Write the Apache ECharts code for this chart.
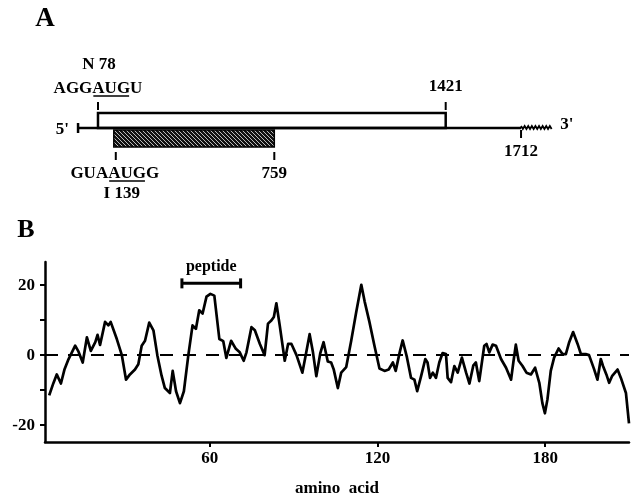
<!DOCTYPE html>
<html>
<head>
<meta charset="utf-8">
<script src="https://cdn.jsdelivr.net/npm/echarts@6/dist/echarts.min.js"></script>
<style>
html, body { margin: 0; padding: 0; background: #fff; }
#chart { width: 631px; height: 497px; }
</style>
</head>
<body>
<div id="chart"></div>
<script>
// ---- panel B : hydrophilicity profile ----
var aminoAcid = [2.5, 4, 5.2, 6.7, 8, 9.4, 11.8, 13, 14.5, 16, 17.4, 19, 19.8, 20.7, 22.5, 23.7, 24.5, 26.7, 28.5, 30,
  31.4, 33.2, 34.4, 35.6, 36.8, 38.3, 39.8, 41.2, 42.7, 43.9, 45.7, 46.7, 47.9, 49.3, 50.7, 52.3, 53.8, 55, 56.2, 57.4,
  58.8, 60.2, 61.6, 63.4, 64.8, 65.9, 67.6, 69.3, 70.7, 72.1, 73.1, 74.9, 76.1, 77.9, 79.6, 80.8, 82, 82.9, 83.8, 85,
  86.8, 88, 89.2, 91, 93.1, 94.3, 95.7, 96.9, 98.1, 99.5, 100.7, 102.2, 103.4, 104.3, 105.8, 107, 108.8, 110.6, 112.4, 114.2,
  115.4, 117.1, 118.9, 120.7, 122.5, 124, 125.5, 126.5, 128, 129, 130.5, 132, 133.2, 134.2, 135.6, 137.1, 137.9, 138.8, 139.8, 140.9,
  142.1, 143.3, 144.5, 145.1, 146.3, 147.5, 148.7, 150.2, 151.7, 152.9, 154.3, 155.2, 156.4, 158.2, 159, 160, 161.2, 162.4, 164.2, 166,
  167.8, 168.6, 169.5, 170.5, 171.9, 173.3, 174.9, 176.4, 177.9, 179, 179.9, 180.8, 182, 183.2, 184.8, 186.2, 187.4, 188.6, 190, 191.6,
  192.8, 194.5, 195.7, 197.5, 198.7, 199.9, 200.7, 201.9, 202.9, 204, 205.9, 207.1, 208.9, 210];
var hydrophilicity = [-11.5, -8, -5.5, -8.1, -4, -1.2, 2.7, 1, -2.1, 5.1, 1.2, 3.7, 5.8, 2.9, 9.5, 8.5, 9.5, 4.6, 0, -7,
  -5.5, -4.1, -2.6, 2.7, 4.1, 9.3, 7.1, 0, -5.8, -9.4, -10.8, -4.5, -10.3, -13.7, -10.3, 0, 8.5, 7.5, 12.8, 11.9,
  16.7, 17.5, 17, 4.6, 4, -0.8, 4.1, 1.8, 0.8, -1.6, 0.8, 8, 7.1, 3.2, 0, 9, 9.9, 10.9, 14.8, 8.5,
  -1.6, 3.2, 3.2, 0, -5, 0, 6, 0.8, -6, 0.5, 3.7, -1.8, -2.1, -4, -9.4, -5, -3.4, 4.2, 12.4, 20.1,
  15.3, 9.5, 2.7, -3.8, -4.5, -4.1, -2.1, -4.5, 1, 4.2, -0.5, -6.5, -7, -10.3, -6, -1.1, -2.1, -6.5, -5, -6.5,
  -2.1, 0.6, 0.3, -6.5, -7.7, -3.1, -5, -0.7, -5, -8.1, -2.9, -2.1, -7.4, 2.7, 3.2, 0.8, 3, 2.7, -1.1, -3.6,
  -7, -2.1, 3, -1.6, -3.1, -5, -5.5, -3.6, -7.9, -13.7, -16.6, -12.7, -4.5, -0.7, 1.9, 0.3, 0.3, 3.7, 6.6, 3.2,
  0.3, 0.3, 0, -4, -7, -1.1, -3.1, -5.5, -7.9, -5.9, -4.1, -6.5, -10.8, -19.5];
var xTicks = [60, 120, 180];
var yTicks = [-20, -10, 0, 10, 20];
var yLabels = [-20, 0, 20];
var peptide = [50, 71];

// ---- panel A : mRNA map (nucleotides) ----
var transcript = [1, 1712];
var polyA = [1712, 1836];
var orfStart = [78, 139];
var orfStop = [1421, 759];
var orfName = ['N 78', 'I 139'];
var startContext = ['AGGAUGU', 'GUAAUGG'];

var serif = '"Liberation Serif", "Times New Roman", serif';
var labelFont = 'bold 17px ' + serif;

var meas = document.createElement('canvas').getContext('2d');
function textWidth(s) {
  meas.font = labelFont;
  return meas.measureText(s).width;
}

// hatch pattern for the second ORF
var hatch = document.createElement('canvas');
hatch.width = 4; hatch.height = 4;
var hc = hatch.getContext('2d');
hc.fillStyle = '#111';
hc.fillRect(0, 0, 4, 4);
hc.strokeStyle = '#bbb';
hc.lineWidth = 1;
hc.beginPath();
hc.moveTo(0, 0); hc.lineTo(4, 4);
hc.moveTo(-2, 2); hc.lineTo(2, 6);
hc.moveTo(2, -2); hc.lineTo(6, 2);
hc.stroke();

function label(text, x, y, align) {
  return {
    type: 'text',
    style: { text: text, x: x, y: y, font: labelFont, fill: '#000', align: align || 'center', verticalAlign: 'middle' }
  };
}
function seg(x1, y1, x2, y2, w) {
  return { type: 'line', shape: { x1: x1, y1: y1, x2: x2, y2: y2 }, style: { stroke: '#000', lineWidth: w || 2 } };
}
// codon context, with the AUG underlined
function context(text, cx, cy) {
  var w = textWidth(text);
  var k = text.indexOf('AUG');
  var left = cx - w / 2;
  var u0 = left + textWidth(text.slice(0, k)) + 1;
  var u1 = left + textWidth(text.slice(0, k + 3)) - 1;
  return [label(text, cx, cy), seg(u0, cy + 7, u1, cy + 7, 1.5)];
}

function renderOrf(params, api) {
  var i = api.value(2);
  var p0 = api.coord([api.value(0), 0]);
  var p1 = api.coord([api.value(1), 0]);
  var y = p0[1];
  var kids = [];
  if (i === 0) {
    kids.push({ type: 'rect', shape: { x: p0[0], y: y - 15, width: p1[0] - p0[0], height: 15 },
      style: { fill: '#fff', stroke: '#000', lineWidth: 2.5 } });
    kids.push(seg(p0[0], y - 26, p0[0], y - 18));
    kids.push(seg(p1[0], y - 26, p1[0], y - 18));
    kids = kids.concat(context(startContext[i], p0[0], y - 39));
    kids.push(label(orfName[i], p0[0] + 1, y - 63));
    kids.push(label(String(orfStop[i]), p1[0], y - 41));
  } else {
    kids.push({ type: 'rect', shape: { x: p0[0], y: y + 2, width: p1[0] - p0[0], height: 17 },
      style: { fill: { image: hatch, repeat: 'repeat' }, stroke: '#000', lineWidth: 1.5 } });
    kids.push(seg(p0[0] + 2, y + 24, p0[0] + 2, y + 32));
    kids.push(seg(p1[0], y + 24, p1[0], y + 32));
    kids = kids.concat(context(startContext[i], p0[0] + 1, y + 46));
    kids.push(label(orfName[i], p0[0] + 8, y + 66));
    kids.push(label(String(orfStop[i]), p1[0], y + 46));
  }
  return { type: 'group', children: kids };
}

function renderEnds(params, api) {
  var a = api.coord([transcript[0], 0]);
  var b = api.coord([polyA[0], 0]);
  var c = api.coord([polyA[1], 0]);
  var y = a[1];
  var kids = [seg(a[0], y - 5, a[0], y + 5, 2.5), label("5'", a[0] - 9, y + 2, 'right')];
  // poly(A) tail squiggle
  var pts = [];
  for (var x = b[0], k = 0; x <= c[0]; x += 1.8, k++) {
    pts.push([x, y - 2 + (k % 2 ? 3 : 0)]);
  }
  kids.push({ type: 'polyline', shape: { points: pts }, style: { stroke: '#000', lineWidth: 1.8, fill: null } });
  kids.push(label("3'", c[0] + 7, y - 3, 'left'));
  kids.push(seg(b[0], y + 2, b[0], y + 10));
  kids.push(label(String(polyA[0]), b[0], y + 24));
  return { type: 'group', children: kids };
}

function renderPeptide(params, api) {
  var p0 = api.coord([api.value(0), 20.5]);
  var p1 = api.coord([api.value(1), 20.5]);
  var y = p0[1];
  return {
    type: 'group',
    children: [
      seg(p0[0], y, p1[0], y, 3),
      seg(p0[0], y - 5, p0[0], y + 5, 3),
      seg(p1[0], y - 5, p1[0], y + 5, 3),
      { type: 'text', style: { text: 'peptide', x: (p0[0] + p1[0]) / 2, y: y - 17,
        font: 'bold 16px ' + serif, fill: '#000', align: 'center', verticalAlign: 'middle' } }
    ]
  };
}

var profile = aminoAcid.map(function (a, i) { return [a, hydrophilicity[i]]; });
var axisFont = { fontFamily: serif, fontWeight: 'bold', fontSize: 17, color: '#000' };

var chart = echarts.init(document.getElementById('chart'), null, { renderer: 'canvas' });
chart.setOption({
  animation: false,
  backgroundColor: '#fff',
  graphic: [
    { type: 'text', x: 45, y: 19, style: { text: 'A', font: 'bold 27px ' + serif, fill: '#000', align: 'center', verticalAlign: 'middle' } },
    { type: 'text', x: 26, y: 230, style: { text: 'B', font: 'bold 26px ' + serif, fill: '#000', align: 'center', verticalAlign: 'middle' } }
  ],
  grid: [
    { left: 45, right: 2, top: 262, bottom: 55, containLabel: false, outerBoundsMode: 'none' },
    { left: 77.8, width: 517.8, top: 96, height: 64, containLabel: false, outerBoundsMode: 'none' }
  ],
  xAxis: [
    {
      gridIndex: 0, type: 'value', min: 1, max: 210,
      axisLine: { show: true, onZero: false, lineStyle: { color: '#000', width: 2.5 } },
      axisTick: { show: true, customValues: xTicks, length: 5, lineStyle: { color: '#000', width: 2 } },
      axisLabel: Object.assign({ customValues: xTicks, margin: 8 }, axisFont),
      splitLine: { show: false },
      name: 'amino  acid', nameLocation: 'middle', nameGap: 38,
      nameTextStyle: axisFont
    },
    { gridIndex: 1, type: 'value', min: 0, max: 2000, show: false }
  ],
  yAxis: [
    {
      gridIndex: 0, type: 'value', min: -24.8, max: 26.6,
      axisLine: { show: true, onZero: false, lineStyle: { color: '#000', width: 2.5 } },
      axisTick: { show: true, customValues: yTicks, length: 5, lineStyle: { color: '#000', width: 2 } },
      axisLabel: Object.assign({ customValues: yLabels, margin: 10 }, axisFont),
      splitLine: { show: false }
    },
    { gridIndex: 1, type: 'value', min: -1, max: 1, show: false }
  ],
  series: [
    {
      name: 'hydrophilicity', type: 'line', xAxisIndex: 0, yAxisIndex: 0,
      data: profile, symbol: 'none',
      lineStyle: { color: '#000', width: 2.7, join: 'round' },
      markLine: {
        silent: true, symbol: 'none', label: { show: false },
        lineStyle: { color: '#000', width: 2, type: [13, 10] },
        data: [{ yAxis: 0 }]
      }
    },
    {
      name: 'peptide', type: 'custom', xAxisIndex: 0, yAxisIndex: 0,
      data: [[peptide[0], peptide[1]]], renderItem: renderPeptide
    },
    {
      name: 'transcript', type: 'line', xAxisIndex: 1, yAxisIndex: 1,
      data: [[transcript[0], 0], [transcript[1], 0]], symbol: 'none',
      lineStyle: { color: '#000', width: 2.5 }
    },
    {
      name: 'orf', type: 'custom', xAxisIndex: 1, yAxisIndex: 1,
      data: orfStart.map(function (s, i) { return [s, orfStop[i], i]; }),
      renderItem: renderOrf
    },
    {
      name: 'ends', type: 'custom', xAxisIndex: 1, yAxisIndex: 1,
      data: [[transcript[0], transcript[1]]], renderItem: renderEnds
    }
  ]
});
</script>
</body>
</html>
